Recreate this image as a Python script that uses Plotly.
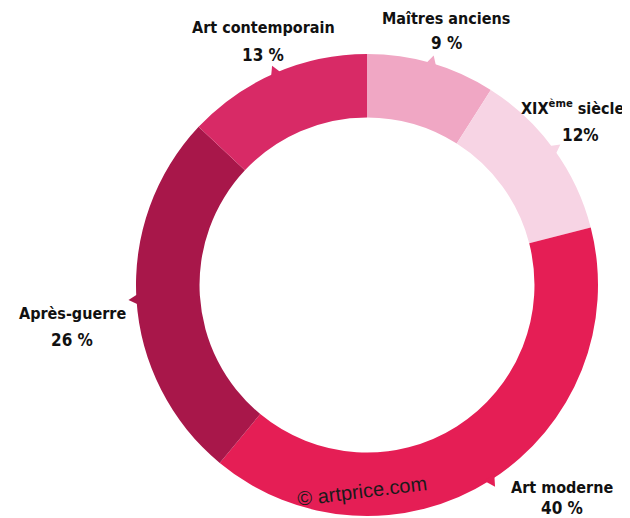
import math
import plotly.graph_objects as go

labels = ["Maîtres anciens", "XIX<sup>ème</sup> siècle", "Art moderne", "Après-guerre", "Art contemporain"]
values = [9, 12, 40, 26, 13]
pct_text = ["9 %", "12%", "40 %", "26 %", "13 %"]
colors = ["#F0A7C4", "#F7D4E4", "#E51E55", "#A8174A", "#D82A66"]

OFF = 8  # browser body margin
W, H = 630 - OFF, 518 - OFF
CX, CY, R = 367, 285, 231
FONT = "DejaVu Sans Condensed, Liberation Sans Narrow, sans-serif"


def px(x, y):
    """viewport pixel -> paper coords"""
    return (x - OFF) / W, 1 - (y - OFF) / H


fig = go.Figure(go.Pie(
    labels=labels, values=values, sort=False, direction="clockwise", rotation=0,
    hole=0.725, marker=dict(colors=colors, line=dict(width=0)),
    textinfo="none", hoverinfo="label+percent", showlegend=False,
    domain=dict(x=[px(CX - R, 0)[0], px(CX + R, 0)[0]],
                y=[px(0, CY + R)[1], px(0, CY - R)[1]]),
))

# small pointers on the outer rim at slice midpoints
total = sum(values)
cum = 0
shapes = []
for v, c in zip(values, colors):
    mid = (cum + v / 2) / total
    cum += v
    th = 2 * math.pi * mid
    ux, uy = math.sin(th), -math.cos(th)
    tx, ty = -uy, ux
    tip = (CX + (R + 8) * ux, CY + (R + 8) * uy)
    b1 = (CX + (R - 3) * ux + 6 * tx, CY + (R - 3) * uy + 6 * ty)
    b2 = (CX + (R - 3) * ux - 6 * tx, CY + (R - 3) * uy - 6 * ty)
    pts = [px(*p) for p in (tip, b1, b2)]
    path = "M {} {} L {} {} L {} {} Z".format(*[f"{a:.5f}" for p in pts for a in p])
    shapes.append(dict(type="path", xref="paper", yref="paper", path=path,
                       fillcolor=c, line=dict(width=0), layer="above"))

# label positions (viewport pixel centres): name line, percent line
label_pos = [
    (446, 18, 446, 43),
    (572, 108, 580, 135),
    (562, 487, 562, 508),
    (72, 313, 72, 340),
    (263, 28, 263, 55),
]
ann = []
for name, p, (nx, ny, qx, qy) in zip(labels, pct_text, label_pos):
    x, y = px(nx, ny)
    ann.append(dict(x=x, y=y, xref="paper", yref="paper", text=f"<b>{name}</b>",
                    showarrow=False, xanchor="center", yanchor="middle",
                    font=dict(family=FONT, size=16, color="#111")))
    x, y = px(qx, qy)
    ann.append(dict(x=x, y=y, xref="paper", yref="paper", text=f"<b>{p}</b>",
                    showarrow=False, xanchor="center", yanchor="middle",
                    font=dict(family=FONT, size=17, color="#111")))

x, y = px(362, 491)
ann.append(dict(x=x, y=y, xref="paper", yref="paper", text="© artprice.com",
                showarrow=False, xanchor="center", yanchor="middle", textangle=-7,
                font=dict(family="Liberation Sans, Arial, sans-serif", size=20, color="#1a1a1a")))

fig.update_layout(width=W, height=H, margin=dict(l=0, r=0, t=0, b=0),
                  paper_bgcolor="white", plot_bgcolor="white",
                  shapes=shapes, annotations=ann)
fig.write_html("out.html")
